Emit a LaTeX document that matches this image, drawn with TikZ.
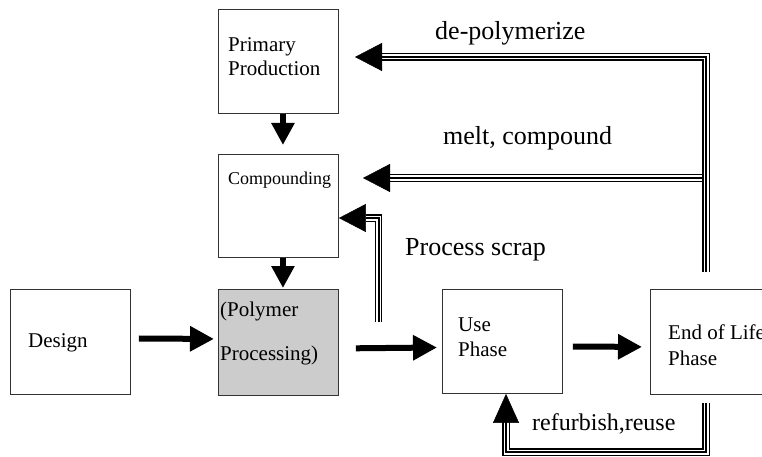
\documentclass[tikz,border=0pt]{standalone}
\usepackage{fontspec}
\setmainfont{Liberation Serif}
\newfontfamily\tnr{Liberation Serif}
\usetikzlibrary{arrows.meta}
\begin{document}
\begin{tikzpicture}[x=1pt,y=-1pt,
  box/.style={draw=black!80, line width=0.9pt, minimum width=120pt, inner sep=0pt, anchor=north west},
  boxtext/.style={anchor=base west, inner sep=0pt, font=\tnr\fontsize{21}{24}\selectfont},
  flowtext/.style={anchor=base west, inner sep=0pt, font=\tnr\fontsize{26}{30}\selectfont},
  varrow/.style={line width=5.5pt, -{Triangle[length=22pt,width=22pt]}},
  harrow/.style={line width=6pt, -{Triangle[length=24pt,width=24pt]}},
  triple/.style={preaction={draw=black, line width=7.6pt}, preaction={draw=white, line width=5pt}, draw=black, line width=2pt, line join=miter},
  trihead/.style={line width=0.5pt, -{Triangle[length=27pt,width=28pt]}}
]
\useasboundingbox (0,0) rectangle (762,457);
\clip (0,0) rectangle (762,457);

% boxes
\node[box, minimum height=104pt] (prim) at (218,9) {};
\node[box, minimum height=103pt] (comp) at (218,154) {};
\node[box, minimum height=106pt, fill=black!20] (poly) at (218,289) {};
\node[box, minimum height=105pt] (design) at (10,289) {};
\node[box, minimum height=104pt] (use) at (442,289) {};
\node[box, minimum height=105pt] (eol) at (650,289) {};

% box texts
\node[boxtext] (t1) at (228,52) {Primary};
\node[boxtext] (t2) at (228,76) {Production};
\node[boxtext, font=\tnr\fontsize{18}{21}\selectfont] (t3) at (228,185) {Compounding};
\node[boxtext] (t4) at (28,347) {Design};
\node[boxtext] (t5) at (220,316) {(Polymer};
\node[boxtext] (t6) at (220,360) {Processing)};
\node[boxtext] (t7) at (458,331) {Use};
\node[boxtext] (t8) at (458,356) {Phase};
\node[boxtext] (t9) at (668,339) {End of Life};
\node[boxtext] (t10) at (668,365) {Phase};

% flow labels
\node[flowtext] (l1) at (435,40) {de-polymerize};
\node[flowtext] (l2) at (443,145) {melt, compound};
\node[flowtext] (l3) at (405,255) {Process scrap};
\node[flowtext, font=\tnr\fontsize{24}{28}\selectfont] (l4) at (532,430) {refurbish,reuse};

% thick arrows
\draw[varrow, shorten >=9pt] ([xshift=4.5pt]prim.south) -- ([xshift=4.5pt]comp.north);
\draw[varrow, shorten >=1pt] ([xshift=4.5pt]comp.south) -- ([xshift=4.5pt]poly.north);
\draw[harrow, shorten <=8pt, shorten >=4pt] ([yshift=3.5pt]design.east) -- ([yshift=3.5pt]poly.west);
\draw[harrow, shorten <=17pt, shorten >=5pt] ([yshift=-6pt]poly.east) -- ([yshift=-6pt]use.west);
\draw[harrow, shorten <=10pt, shorten >=8pt] ([yshift=-5pt]use.east) -- ([yshift=-5pt]eol.west);

% coordinates for recycling loops
\coordinate (dpTop) at (706,272);
\coordinate (dpCorner) at (706,57);
\coordinate (dpBase) at (382,57);
\coordinate (dpTip) at (355,57);
\coordinate (mcStart) at (706,178);
\coordinate (mcBase) at (390,178);
\coordinate (mcTip) at (363,178);
\coordinate (psStart) at (378.5,322);
\coordinate (psCorner) at (378.5,218);
\coordinate (psBase) at (366,218);
\coordinate (psTip) at (comp.east |- psBase);
\coordinate (rfStart) at (706,403);
\coordinate (rfC1) at (706,452);
\coordinate (rfC2) at (506,452);
\coordinate (rfBase) at (506,422);
\coordinate (rfTip) at (rfBase |- use.south);

% triple lines
\path[triple] (mcStart) -- (mcBase);
\path[triple] (dpTop) -- (dpCorner) -- (dpBase);
\path[triple] (psStart) -- (psCorner) -- (psBase);
\path[triple] (rfStart) -- (rfC1) -- (rfC2) -- (rfBase);

% heads
\draw[trihead] (dpBase) -- (dpTip);
\draw[trihead] (mcBase) -- (mcTip);
\draw[trihead] (psBase) -- (psTip);
\draw[trihead, -{Triangle[length=29pt,width=26pt]}] (rfBase) -- (rfTip);
\end{tikzpicture}
\end{document}
